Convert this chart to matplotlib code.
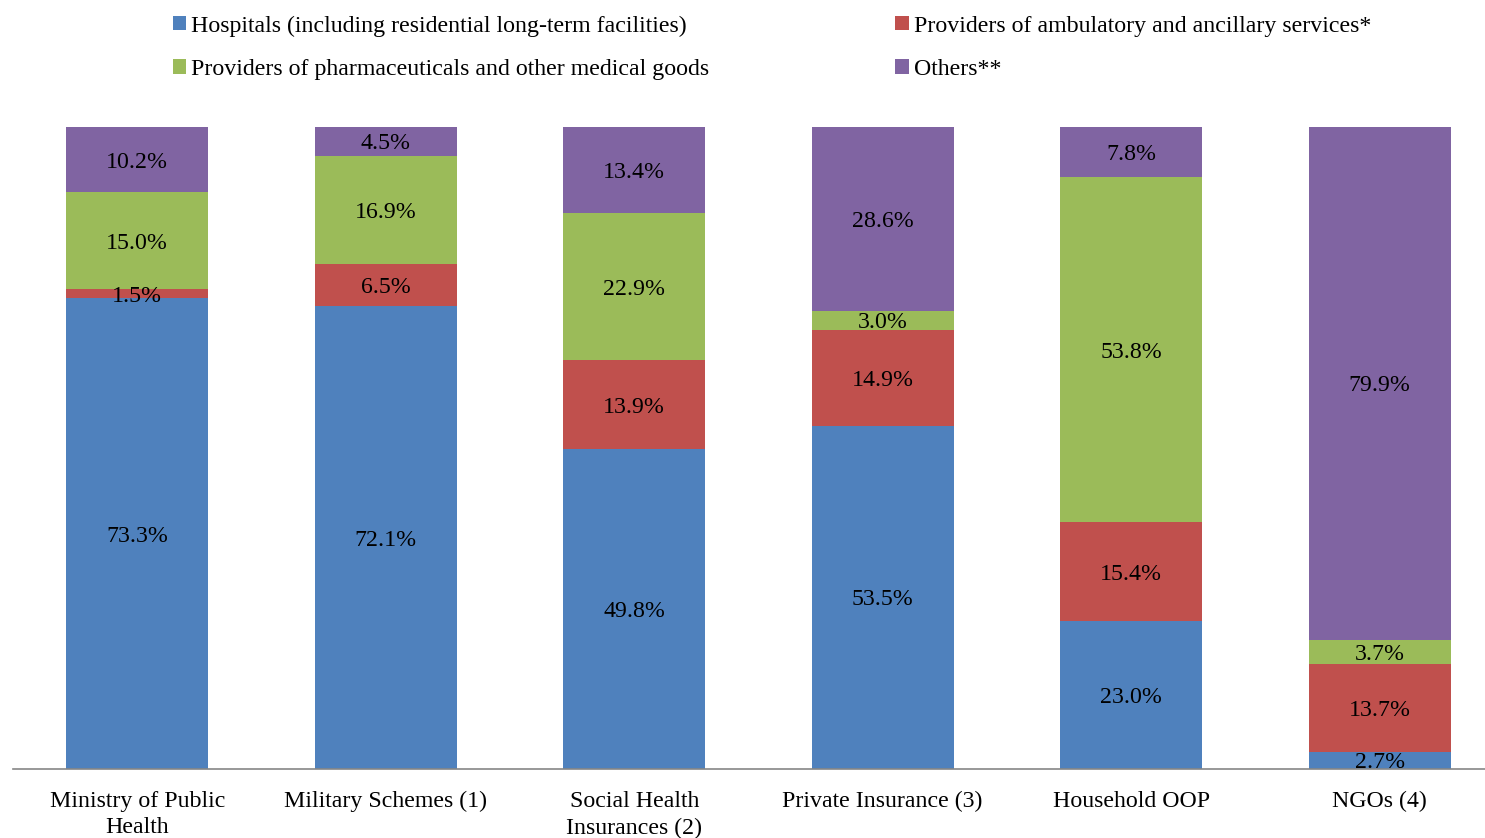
import matplotlib
matplotlib.use("Agg")
import matplotlib.pyplot as plt
from matplotlib.patches import Patch

plt.rcParams["font.family"] = ["Liberation Serif", "DejaVu Serif"]

categories = ["Ministry of Public\nHealth", "Military Schemes (1)",
              "Social Health\nInsurances (2)", "Private Insurance (3)",
              "Household OOP", "NGOs (4)"]
series_names = ["Hospitals (including residential long-term facilities)",
                "Providers of ambulatory and ancillary services*",
                "Providers of pharmaceuticals and other medical goods",
                "Others**"]
hospitals = [73.3, 72.1, 49.8, 53.5, 23.0, 2.7]
ambulatory = [1.5, 6.5, 13.9, 14.9, 15.4, 13.7]
pharma = [15.0, 16.9, 22.9, 3.0, 53.8, 3.7]
others = [10.2, 4.5, 13.4, 28.6, 7.8, 79.9]
colors = ["#4F81BD", "#C0504D", "#9BBB59", "#8064A2"]

FS = 17.2
W, H = 1485, 838
fig = plt.figure(figsize=(W / 100, H / 100), dpi=100)
ax = fig.add_axes([13 / W, 1 - 769 / H, (1485 - 13) / W, (769 - 127) / H])

x = list(range(len(categories)))
bottom = [0.0] * len(categories)
for vals, col in zip([hospitals, ambulatory, pharma, others], colors):
    ax.bar(x, vals, bottom=bottom, width=0.571, color=col, edgecolor="none")
    for i, v in enumerate(vals):
        ax.text(i, bottom[i] + v / 2, f"{v:.1f}%", ha="center",
                va="center_baseline", fontsize=FS, color="black")
    bottom = [b + v for b, v in zip(bottom, vals)]

ax.set_xlim(-0.5, 5.424)
ax.set_ylim(0, 100)
for s in ["top", "right", "left"]:
    ax.spines[s].set_visible(False)
ax.spines["bottom"].set_color("#868686")
ax.spines["bottom"].set_linewidth(1.2)
ax.set_yticks([])
ax.set_xticks(x)
ax.set_xticklabels(categories, fontsize=FS, linespacing=1.32, va="top")
ax.tick_params(axis="x", length=0, pad=16)

# legend, laid out in two rows
handles = [Patch(facecolor=c, edgecolor="none") for c in colors]
order = [0, 2, 1, 3]
leg = fig.legend([handles[i] for i in order], [series_names[i] for i in order],
                 loc="upper left", bbox_to_anchor=(163 / W, 1 - 6 / H), ncol=2,
                 frameon=False, fontsize=FS, handlelength=0.55,
                 handleheight=0.55, handletextpad=0.22, columnspacing=7.8,
                 labelspacing=0.93, borderaxespad=0)

fig.savefig("out.png", dpi=100)
